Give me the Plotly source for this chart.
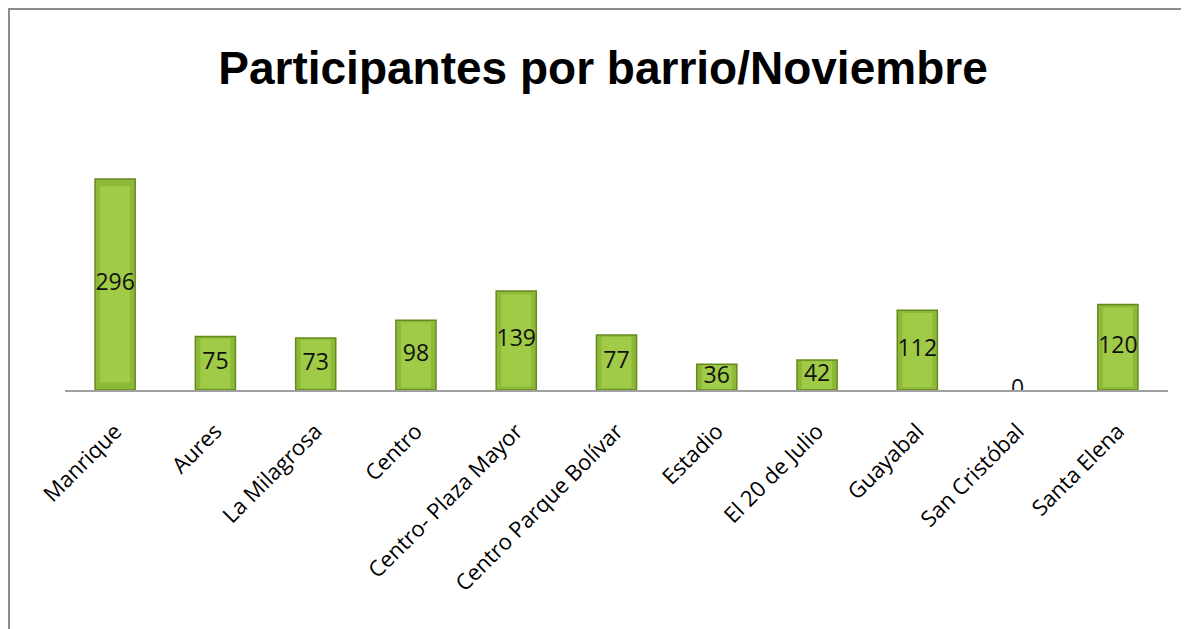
import plotly.graph_objects as go

barrios = ["Manrique", "Aures", "La Milagrosa", "Centro", "Centro- Plaza Mayor",
           "Centro Parque Bolívar", "Estadio", "El 20 de Julio", "Guayabal",
           "San Cristóbal", "Santa Elena"]
participantes = [296, 75, 73, 98, 139, 77, 36, 42, 112, 0, 120]

# page body has an 8px default margin, so the figure is drawn 8px smaller
OFF = 8
W, H = 1189 - OFF, 629 - OFF
ML, MR, MT, MB = 65 - OFF, 21, 120 - OFF, 239
PW, PH = W - ML - MR, H - MT - MB

def px_x(p):
    return (p - ML) / PW

def px_y(p):
    return (H - MB - p) / PH

line_w = [0 if v == 0 else 1.5 for v in participantes]

fig = go.Figure()
fig.add_trace(go.Bar(
    x=barrios, y=participantes, width=0.4,
    marker=dict(color="#8DB838", line=dict(color="#66891F", width=line_w)),
    hoverinfo="x+y", showlegend=False,
))
# inner highlight to simulate bevel
fig.add_trace(go.Bar(
    x=barrios, y=[v * 0.93 for v in participantes],
    base=[v * 0.035 for v in participantes], width=0.3,
    marker=dict(color="#9FCB47", line=dict(width=0)),
    hoverinfo="skip", showlegend=False,
))
fig.add_trace(go.Scatter(
    x=barrios, y=[v / 2 for v in participantes], mode="text",
    text=[str(v) for v in participantes],
    textfont=dict(family="Open Sans, Noto Sans, sans-serif", size=23, color="#111111"),
    hoverinfo="skip", showlegend=False,
))

fig.update_layout(
    width=W, height=H,
    margin=dict(l=ML, r=MR, t=MT, b=MB),
    paper_bgcolor="white", plot_bgcolor="white",
    barmode="overlay",
    title=dict(text="<b>Participantes por barrio/Noviembre</b>",
               font=dict(family="Liberation Sans, Arial, sans-serif", size=46, color="black"),
               x=(603 - OFF) / W, xanchor="center", y=1 - (68 - OFF) / H, yanchor="middle"),
    xaxis=dict(range=[-0.5, 10.5], tickangle=-45, showgrid=False,
               showline=True, linecolor="#A0A0A0", linewidth=1.5, ticks="",
               ticklabelstandoff=18,
               tickfont=dict(family="Open Sans, Noto Sans, sans-serif", size=22, color="black")),
    yaxis=dict(range=[0, 378.7], visible=False),
    shapes=[
        dict(type="line", xref="paper", yref="paper",
             x0=px_x(0), x1=px_x(W + 5), y0=px_y(0.5), y1=px_y(0.5),
             line=dict(color="#8C8C8C", width=3)),
        dict(type="line", xref="paper", yref="paper",
             x0=px_x(0.5), x1=px_x(0.5), y0=px_y(0), y1=px_y(H + 5),
             line=dict(color="#8C8C8C", width=3)),
    ],
)

fig.write_html("out.html")
